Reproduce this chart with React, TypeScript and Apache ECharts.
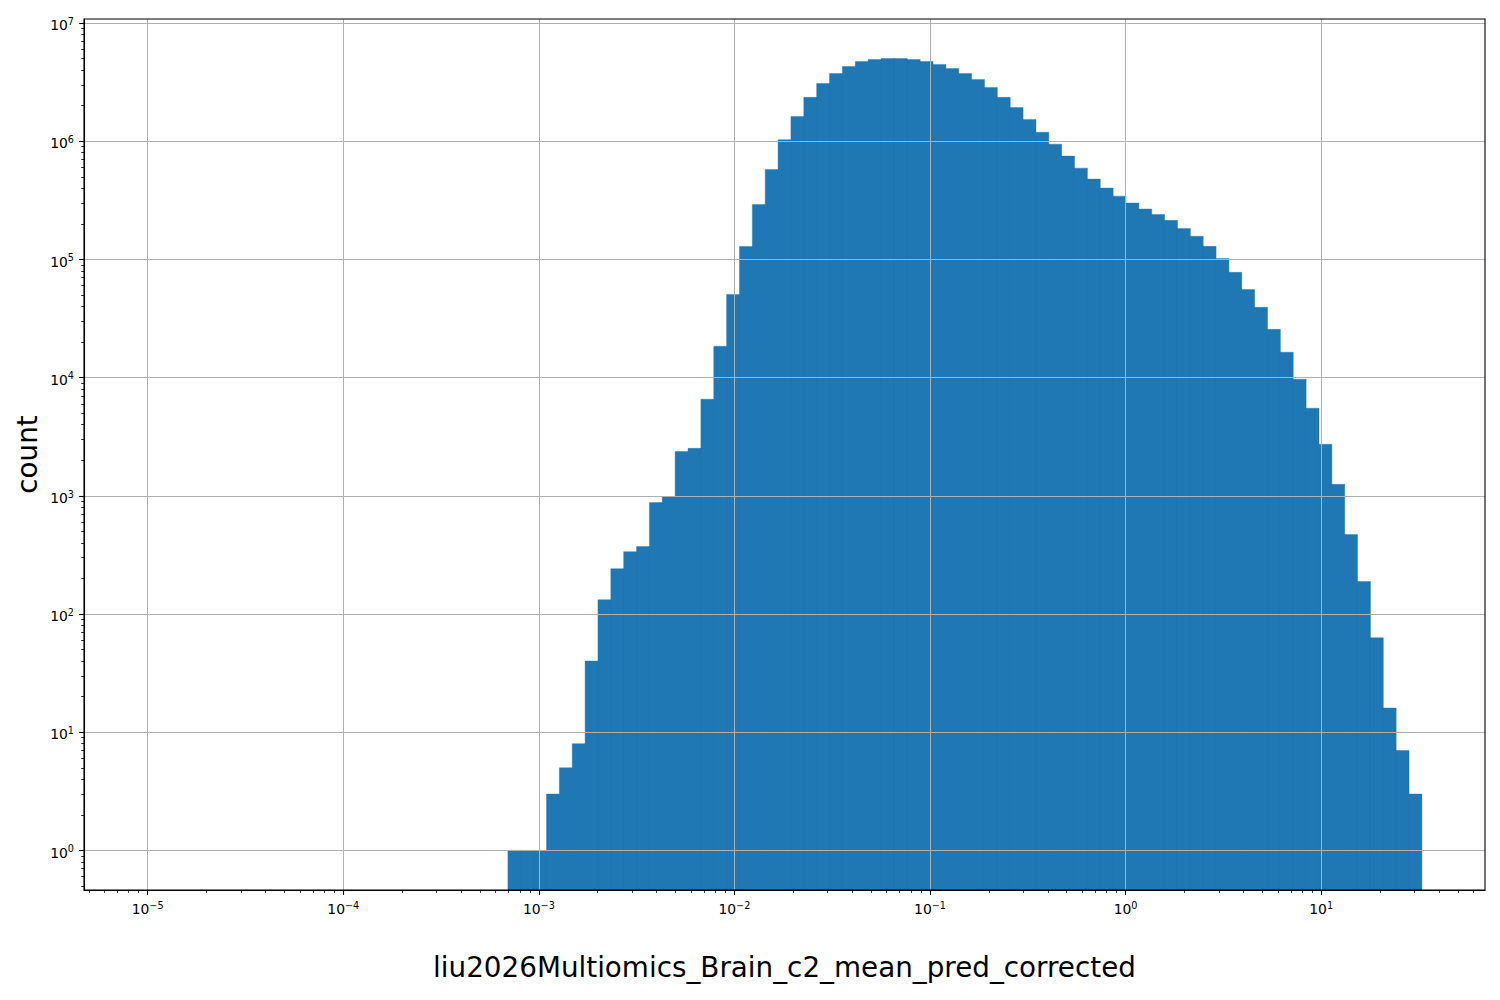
import React, { useEffect, useRef } from "react";
import * as echarts from "echarts";

const xAxisTitle = "liu2026Multiomics_Brain_c2_mean_pred_corrected";
const yAxisTitle = "count";

// histogram bins (log-spaced): log10 of the first and last bin edges, number of bins
const binEdgeLogMin = -5;
const binEdgeLogMax = 1.512;
const binTotal = 99;
// bins before this index are empty
const firstFilledBin = 28;
const binCounts = [
  1, 1, 1, 3, 5, 8, 40, 132, 242, 337, 372, 877, 986, 2370, 2520, 6560, 18400,
  50600, 128800, 292000, 577000, 1030000, 1620000, 2350000, 3080000, 3740000,
  4290000, 4720000, 4910000, 5000000, 5000000, 4910000, 4720000, 4450000,
  4120000, 3740000, 3330000, 2850000, 2350000, 1930000, 1530000, 1190000,
  944000, 748000, 592000, 478000, 401000, 343000, 300000, 267000, 240000,
  214000, 183000, 157000, 129000, 102000, 77700, 55700, 39300, 25600, 16400,
  9680, 5510, 2730, 1250, 470, 188, 63, 16, 7, 3,
];

// axis limits (log10)
const xLimLog = [-5.3256, 1.8376];
const yLimLog = [-0.335, 7.034];
const xMajorExps = [-5, -4, -3, -2, -1, 0, 1];
const yMajorExps = [0, 1, 2, 3, 4, 5, 6, 7];
const minorMultipliers = [2, 3, 4, 5, 6, 7, 8, 9];

const BAR_COLOR = "#1f77b4";
const GRID_COLOR = "#b0b0b0";
const FONT = "DejaVu Sans";

function minorValues(lim: number[]): number[] {
  const out: number[] = [];
  for (let n = Math.floor(lim[0]) - 1; n <= Math.ceil(lim[1]); n++) {
    for (const k of minorMultipliers) {
      const v = n + Math.log10(k);
      if (v > lim[0] && v < lim[1]) out.push(v);
    }
  }
  return out;
}

function powLabel(v: number): string {
  const e = Math.round(v);
  const s = e < 0 ? "\u2212" + Math.abs(e) : String(e);
  return `{b|10}{s|${s}}`;
}

const richStyle = {
  b: { fontSize: 13.9, lineHeight: 18, fontFamily: FONT, color: "#000" },
  s: {
    fontSize: 9.7,
    lineHeight: 10,
    verticalAlign: "top",
    fontFamily: FONT,
    color: "#000",
  },
};

export default function App() {
  const ref = useRef<HTMLDivElement>(null);

  useEffect(() => {
    if (!ref.current) return;
    const chart = echarts.init(ref.current, undefined, { renderer: "svg" });

    const binWidth = (binEdgeLogMax - binEdgeLogMin) / binTotal;
    const barData = binCounts.map((c, i) => {
      const k = firstFilledBin + i;
      return [
        binEdgeLogMin + k * binWidth,
        binEdgeLogMin + (k + 1) * binWidth,
        Math.log10(c),
      ];
    });

    const option: any = {
      animation: false,
      grid: {
        left: 84,
        top: 19,
        width: 1401,
        height: 871,
        show: true,
        borderColor: "#000",
        borderWidth: 1.1,
        backgroundColor: "transparent",
        z: 6,
        containLabel: false,
        outerBoundsMode: "none",
      },
      xAxis: [
        {
          type: "value",
          min: xLimLog[0],
          max: xLimLog[1],
          z: 5,
          name: xAxisTitle,
          nameLocation: "middle",
          nameGap: 63,
          nameMoveOverlap: false,
          nameTextStyle: { fontSize: 27.8, fontFamily: FONT, color: "#000" },
          axisLine: { show: true, onZero: false, lineStyle: { color: "#000", width: 1.1 } },
          axisTick: {
            show: true,
            length: 4.9,
            lineStyle: { color: "#000", width: 1.1 },
            customValues: xMajorExps,
          },
          axisLabel: {
            show: true,
            margin: 10,
            customValues: xMajorExps,
            formatter: powLabel,
            rich: richStyle,
          },
          splitLine: { show: true, lineStyle: { color: GRID_COLOR, width: 1 } },
          minorTick: { show: false },
        },
        {
          type: "value",
          min: xLimLog[0],
          max: xLimLog[1],
          position: "bottom",
          z: 5,
          axisLine: { show: false, onZero: false },
          axisLabel: { show: false },
          splitLine: { show: false },
          axisTick: {
            show: true,
            length: 2.8,
            lineStyle: { color: "#000", width: 0.83 },
            customValues: minorValues(xLimLog),
          },
        },
      ],
      yAxis: [
        {
          type: "value",
          min: yLimLog[0],
          max: yLimLog[1],
          z: 5,
          name: yAxisTitle,
          nameLocation: "middle",
          nameGap: 43,
          nameRotate: 90,
          nameMoveOverlap: false,
          nameTextStyle: { fontSize: 27.8, fontFamily: FONT, color: "#000" },
          axisLine: { show: true, onZero: false, lineStyle: { color: "#000", width: 1.1 } },
          axisTick: {
            show: true,
            length: 4.9,
            lineStyle: { color: "#000", width: 1.1 },
            customValues: yMajorExps,
          },
          axisLabel: {
            show: true,
            margin: 10,
            padding: [4.4, 0, 0, 0],
            customValues: yMajorExps,
            formatter: powLabel,
            rich: richStyle,
          },
          splitLine: { show: true, lineStyle: { color: GRID_COLOR, width: 1 } },
        },
        {
          type: "value",
          min: yLimLog[0],
          max: yLimLog[1],
          position: "left",
          z: 5,
          axisLine: { show: false, onZero: false },
          axisLabel: { show: false },
          splitLine: { show: false },
          axisTick: {
            show: true,
            length: 2.8,
            lineStyle: { color: "#000", width: 0.83 },
            customValues: minorValues(yLimLog),
          },
        },
      ],
      series: [
        {
          type: "custom",
          xAxisIndex: 0,
          yAxisIndex: 0,
          data: barData,
          encode: { x: [0, 1], y: 2 },
          clip: true,
          silent: true,
          z: 2,
          renderItem: (_params: any, api: any) => {
            const topLeft = api.coord([api.value(0), api.value(2)]);
            const bottomRight = api.coord([api.value(1), yLimLog[0]]);
            return {
              type: "rect",
              shape: {
                x: topLeft[0],
                y: topLeft[1],
                width: bottomRight[0] - topLeft[0] + 0.6,
                height: bottomRight[1] - topLeft[1],
              },
              style: { fill: BAR_COLOR, stroke: BAR_COLOR, lineWidth: 0.4, opacity: 1 },
            };
          },
        },
      ],
    };

    chart.setOption(option);
    return () => chart.dispose();
  }, []);

  return (
    <div
      ref={ref}
      style={{ position: "absolute", left: 0, top: 0, width: 1500, height: 1000, background: "#fff" }}
    />
  );
}
